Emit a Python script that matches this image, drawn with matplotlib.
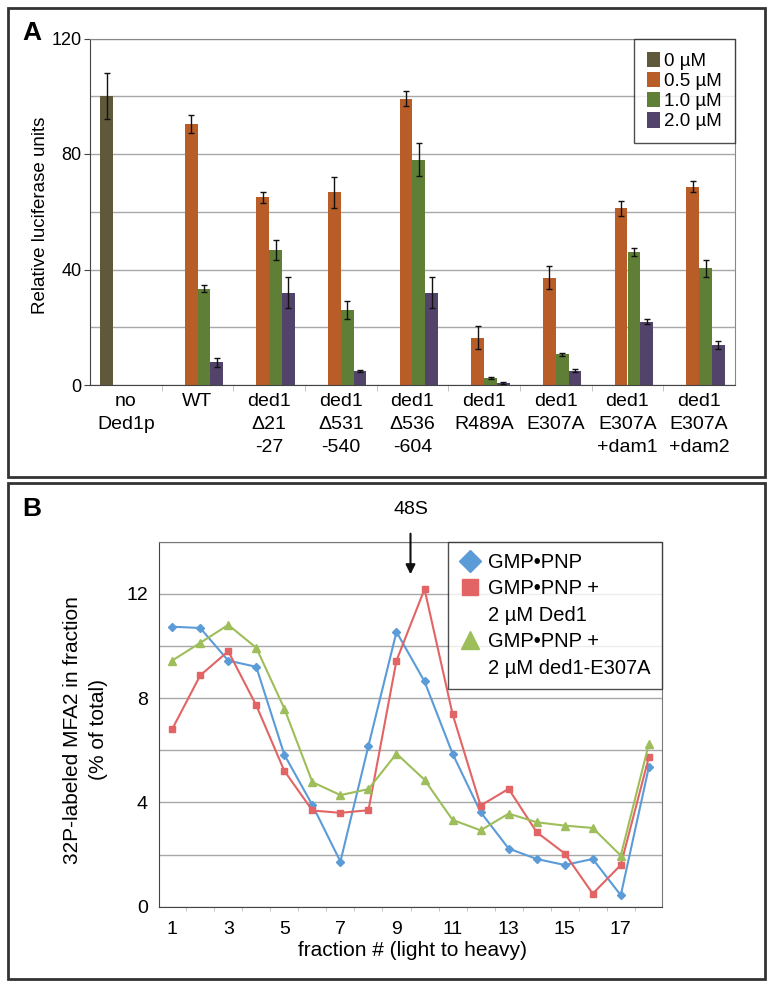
import numpy as np
import matplotlib
matplotlib.use("Agg")
import matplotlib.pyplot as plt
from matplotlib.patches import Rectangle
from matplotlib.lines import Line2D

plt.rcParams['font.family'] = ['Liberation Sans', 'DejaVu Sans']

# ---- panel A data ----
groups = ["no\nDed1p", "WT", "ded1\n\u039421\n-27", "ded1\n\u0394531\n-540",
          "ded1\n\u0394536\n-604", "ded1\nR489A", "ded1\nE307A",
          "ded1\nE307A\n+dam1", "ded1\nE307A\n+dam2"]
conc = ["0 \u00b5M", "0.5 \u00b5M", "1.0 \u00b5M", "2.0 \u00b5M"]
vals_0 = [100, np.nan, np.nan, np.nan, np.nan, np.nan, np.nan, np.nan, np.nan]
err_0 = [8, 0, 0, 0, 0, 0, 0, 0, 0]
vals_05 = [np.nan, 90.4, 65.0, 66.7, 99.2, 16.4, 37.2, 61.2, 68.7]
err_05 = [0, 3.0, 2.0, 5.5, 2.6, 4.0, 4.0, 2.6, 2.0]
vals_10 = [np.nan, 33.4, 46.8, 26.0, 78.0, 2.5, 10.7, 46.0, 40.4]
err_10 = [0, 1.2, 3.5, 3.0, 5.7, 0.3, 0.5, 1.3, 3.0]
vals_20 = [np.nan, 7.8, 32.0, 4.8, 32.0, 0.6, 5.0, 21.9, 13.9]
err_20 = [0, 1.6, 5.5, 0.4, 5.5, 0.3, 0.4, 0.8, 1.3]

# ---- panel B data ----
fractions = list(range(1, 19))
gmppnp = [10.74, 10.69, 9.44, 9.2, 5.83, 3.9, 1.73, 6.17, 10.54, 8.64,
          5.87, 3.63, 2.23, 1.83, 1.6, 1.83, 0.44, 5.35]
gmppnp_ded1 = [6.81, 8.87, 9.8, 7.72, 5.21, 3.69, 3.6, 3.7, 9.44, 12.18,
               7.39, 3.88, 4.52, 2.86, 2.04, 0.5, 1.6, 5.73]
gmppnp_e307a = [9.44, 10.12, 10.81, 9.93, 7.6, 4.78, 4.28, 4.51, 5.87, 4.87,
                3.33, 2.93, 3.57, 3.24, 3.11, 3.02, 1.96, 6.24]

W, H = 774, 984
fig = plt.figure(figsize=(W / 100, H / 100), dpi=100)

# panel frames
for y0, y1 in [(8, 477), (483, 979)]:
    fig.patches.append(Rectangle((8 / W, 1 - y1 / H), 757 / W, (y1 - y0) / H,
                                 transform=fig.transFigure, fill=False,
                                 edgecolor='#333333', linewidth=2))
fig.text(22 / W, 1 - 33 / H, "A", fontsize=19, fontweight='bold', va='center')
fig.text(22 / W, 1 - 509 / H, "B", fontsize=19, fontweight='bold', va='center')

grid_c = '#a8a8a8'
spine_c = '#444444'

# ---------------- panel A ----------------
axA = fig.add_axes([90 / W, 1 - 385 / H, 645 / W, 346.5 / H])
x = np.arange(len(groups))
w = 0.178
colors = ['#5f583b', '#b95d28', '#5f7f36', '#514369']
series = [(vals_0, err_0), (vals_05, err_05), (vals_10, err_10), (vals_20, err_20)]
for i, (v, e) in enumerate(series):
    pos = x + (i - 1.5) * w
    axA.bar(pos, v, width=w, color=colors[i], label=conc[i], zorder=2)
    v = np.array(v, dtype=float)
    m = ~np.isnan(v)
    axA.errorbar(pos[m], v[m], yerr=np.array(e)[m], fmt='none', ecolor='#111111',
                 elinewidth=1, capsize=2, capthick=1, zorder=3)

axA.set_xlim(-0.5, len(groups) - 0.5)
axA.set_ylim(0, 120)
axA.set_yticks([0, 40, 80, 120])
axA.set_yticks([20, 60, 100], minor=True)
axA.yaxis.grid(True, which='both', color=grid_c, linewidth=1)
axA.set_axisbelow(True)
axA.tick_params(axis='y', which='major', length=4, labelsize=13, color=spine_c, pad=2)
axA.tick_params(axis='y', which='minor', length=0)
axA.set_xticks(x)
axA.set_xticklabels(groups, fontsize=14, linespacing=1.45, va='top')
axA.set_xticks(np.arange(0.5, len(groups) - 0.5), minor=True)
axA.tick_params(axis='x', which='major', length=0, pad=6)
axA.tick_params(axis='x', which='minor', length=4, color='#bbbbbb')
for s in axA.spines.values():
    s.set_color(spine_c)
axA.spines['top'].set_color('#888888')
axA.spines['right'].set_color('#888888')
fig.text(40.7 / W, 1 - 215 / H, "Relative luciferase units", fontsize=13.5,
         rotation=90, ha='center', va='center')
legA = axA.legend(loc='upper right', bbox_to_anchor=(1, 1), borderaxespad=0,
                  fontsize=13.5, frameon=True, fancybox=False, handlelength=0.7,
                  handleheight=0.9, handletextpad=0.2, labelspacing=0.1,
                  borderpad=0.7)
legA.get_frame().set_edgecolor('#222222')
legA.get_frame().set_linewidth(1)

# ---------------- panel B ----------------
axB = fig.add_axes([159 / W, 1 - 906.7 / H, 503 / W, 365 / H])
line_specs = [
    (gmppnp, '#5b9bd8', 'D', 4, 11, ["GMP\u2022PNP"]),
    (gmppnp_ded1, '#e26464', 's', 5, 11, ["GMP\u2022PNP +", "2 \u00b5M Ded1"]),
    (gmppnp_e307a, '#9dbe5a', '^', 5.5, 13, ["GMP\u2022PNP +", "2 \u00b5M ded1-E307A"]),
]
handles = []
for yv, c, mk, ms, lms, labs in line_specs:
    axB.plot(fractions, yv, color=c, marker=mk, markersize=ms, linewidth=1.5,
             zorder=3)
    handles.append(Line2D([], [], color=c, marker=mk, linestyle='none',
                          markersize=lms, label=labs[0]))
    for extra in labs[1:]:
        handles.append(Line2D([], [], linestyle='none', label=extra))

axB.set_xlim(0.53, 18.47)
axB.set_ylim(0, 14)
axB.set_yticks([0, 4, 8, 12])
axB.set_yticks([2, 6, 10, 14], minor=True)
axB.yaxis.grid(True, which='both', color=grid_c, linewidth=1)
axB.set_axisbelow(True)
axB.tick_params(axis='y', which='both', length=0, labelsize=14, pad=8)
axB.set_xticks(range(1, 18, 2))
axB.set_xticks(np.arange(1.5, 18.5, 1), minor=True)
axB.tick_params(axis='x', which='major', length=0, labelsize=14, pad=10)
axB.tick_params(axis='x', which='minor', length=3, color='#bbbbbb')
for s in axB.spines.values():
    s.set_color(spine_c)
axB.spines['top'].set_color('#777777')
axB.spines['right'].set_color('#777777')
fig.text(412 / W, 1 - 950 / H, "fraction # (light to heavy)", fontsize=15,
         ha='center', va='center')
fig.text(85.5 / W, 1 - 730 / H, "32P-labeled MFA2 in fraction\n(% of total)",
         fontsize=15, rotation=90, ha='center', va='center', linespacing=1.4)

axB.annotate("48S", xy=(9.5, 12.75), xytext=(9.5, 15.22), textcoords='data',
             ha='center', va='center', fontsize=14, annotation_clip=False,
             arrowprops=dict(arrowstyle='-|>', color='#111111', lw=1.5,
                             mutation_scale=14, shrinkA=9, shrinkB=0))

legB = axB.legend(handles=handles, loc='upper right', bbox_to_anchor=(1, 1),
                  borderaxespad=0, fontsize=14.5, frameon=True, fancybox=False,
                  handlelength=1.1, handletextpad=0.35, labelspacing=0.37,
                  borderpad=0.55)
legB.get_frame().set_edgecolor('#222222')
legB.get_frame().set_linewidth(1)

fig.savefig("out.png", dpi=100)
